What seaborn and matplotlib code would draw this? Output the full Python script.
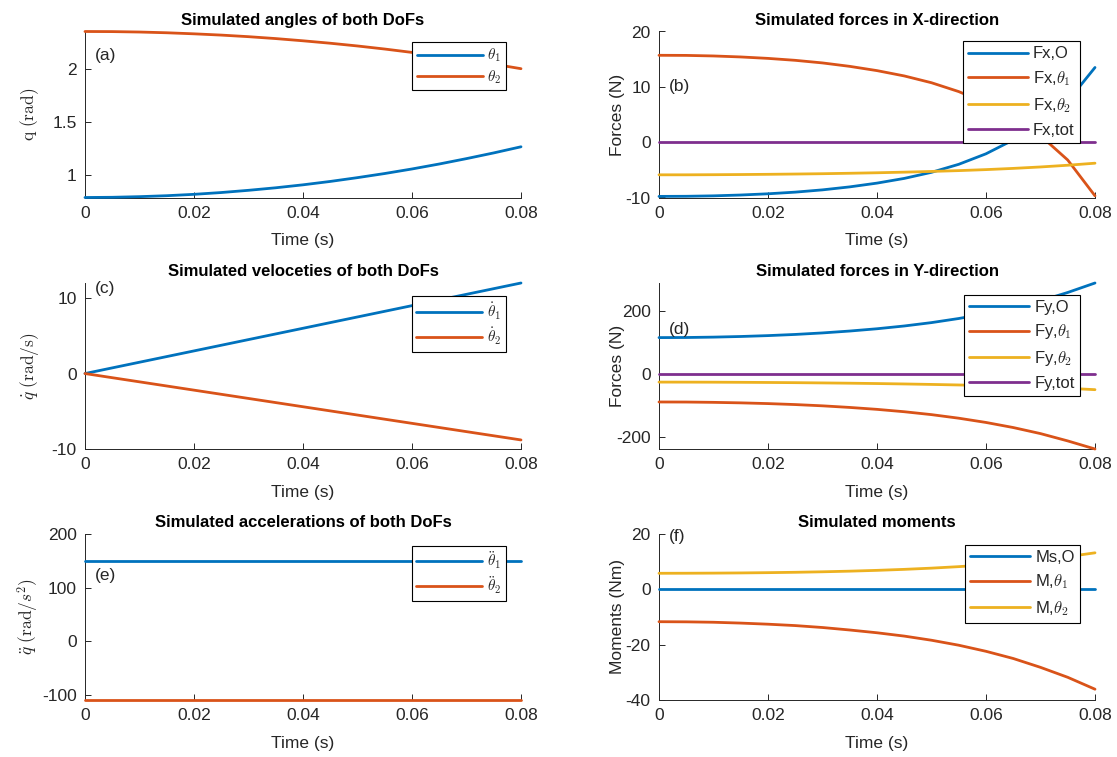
import numpy as np
import pandas as pd
import matplotlib
matplotlib.use("Agg")
import matplotlib.pyplot as plt
import seaborn as sns
from matplotlib.ticker import FuncFormatter

# ---------------- data ----------------
time = [0.0, 0.005, 0.01, 0.015, 0.02, 0.025, 0.03, 0.035, 0.04,
        0.045, 0.05, 0.055, 0.06, 0.065, 0.07, 0.075, 0.08]

theta1 = [0.785, 0.787, 0.793, 0.802, 0.815, 0.832, 0.853, 0.877, 0.905,
          0.937, 0.973, 1.012, 1.055, 1.102, 1.153, 1.207, 1.265]
theta2 = [2.356, 2.355, 2.351, 2.344, 2.334, 2.322, 2.307, 2.289, 2.268,
          2.245, 2.219, 2.190, 2.158, 2.124, 2.087, 2.047, 2.004]

dtheta1 = [0, 0.75, 1.5, 2.25, 3.0, 3.75, 4.5, 5.25, 6.0,
           6.75, 7.5, 8.25, 9.0, 9.75, 10.5, 11.25, 12.0]
dtheta2 = [0, -0.55, -1.1, -1.65, -2.2, -2.75, -3.3, -3.85, -4.4,
           -4.95, -5.5, -6.05, -6.6, -7.15, -7.7, -8.25, -8.8]

ddtheta1 = [150] * 17
ddtheta2 = [-110] * 17

fx_O = [-9.80, -9.78, -9.70, -9.55, -9.33, -9.03, -8.62, -8.08, -7.40,
        -6.55, -5.45, -4.00, -2.10, 0.40, 3.30, 7.40, 13.50]
fx_t1 = [15.70, 15.68, 15.58, 15.40, 15.14, 14.79, 14.32, 13.70, 12.93,
         11.97, 10.74, 9.14, 7.06, 4.34, 1.18, -3.23, -9.70]
fx_t2 = [-5.90, -5.90, -5.88, -5.85, -5.81, -5.76, -5.70, -5.62, -5.53,
         -5.42, -5.29, -5.14, -4.96, -4.74, -4.48, -4.17, -3.80]
fx_tot = [0.0] * 17

fy_O = [115, 115.3, 116.5, 118.5, 121.3, 125, 129.8, 135.8, 143,
        151.8, 162.5, 175.5, 191, 209.5, 231.5, 258, 288]
fy_t1 = [-89, -89.2, -90.2, -91.8, -94.1, -97.2, -101.2, -106.3, -112.4,
         -119.9, -129.1, -140.4, -153.9, -170, -189.2, -212.4, -238]
fy_t2 = [-26, -26.1, -26.3, -26.7, -27.2, -27.8, -28.6, -29.5, -30.6,
         -31.9, -33.4, -35.1, -37.1, -39.5, -42.3, -45.6, -50]
fy_tot = [0.0] * 17

m_O = [0.0] * 17
m_t1 = [-11.7, -11.75, -11.9, -12.2, -12.6, -13.1, -13.8, -14.7, -15.7,
        -16.9, -18.4, -20.2, -22.4, -25.0, -28.2, -31.8, -36.1]
m_t2 = [5.8, 5.82, 5.86, 5.93, 6.03, 6.16, 6.34, 6.57, 6.86,
        7.22, 7.66, 8.2, 8.86, 9.66, 10.6, 11.8, 13.2]

x_ticks = [0, 0.02, 0.04, 0.06, 0.08]

# ---------------- style ----------------
sns.set_style("ticks")
plt.rcParams["font.family"] = ["Liberation Sans", "DejaVu Sans"]
plt.rcParams["axes.unicode_minus"] = False
plt.rcParams["mathtext.fontset"] = "cm"

C_BLUE, C_RED, C_YEL, C_PUR = "#0072BD", "#D95319", "#EDB120", "#7E2F8E"
GRAY = "#262626"

fig = plt.figure(figsize=(11.17, 7.57), dpi=100)

W = 436 / 1117
H = 166 / 757
cols = [85 / 1117, 659 / 1117]
rows = [1 - 197.5 / 757, 1 - 449 / 757, 1 - 700 / 757]
ylab_x = [-0.102, -0.078]


def fmt(v, pos):
    return "%g" % round(v, 6)


def panel(r, c, series, labels, colors, title, ylabel, ylim, yticks,
          tag, tag_y, leg_math=True, leg_y=0.935, ylab_math=True):
    ax = fig.add_axes([cols[c], rows[r], W, H])
    recs = []
    for vals, lab in zip(series, labels):
        for t, v in zip(time, vals):
            recs.append({"t": t, "v": v, "s": lab})
    df = pd.DataFrame(recs)
    sns.lineplot(data=df, x="t", y="v", hue="s", hue_order=labels,
                 palette=colors, linewidth=2.0, estimator=None, ax=ax)
    for ln in ax.get_lines():
        ln.set_clip_on(False)
        ln.set_zorder(3)
    ax.set_xlim(0, 0.08)
    ax.set_ylim(*ylim)
    ax.set_xticks(x_ticks)
    ax.set_yticks(yticks)
    ax.xaxis.set_major_formatter(FuncFormatter(fmt))
    ax.yaxis.set_major_formatter(FuncFormatter(fmt))
    for sp in ["top", "right"]:
        ax.spines[sp].set_visible(False)
    for sp in ["left", "bottom"]:
        ax.spines[sp].set_color(GRAY)
        ax.spines[sp].set_linewidth(0.7)
    ax.tick_params(direction="in", length=4, width=0.7, colors=GRAY,
                   labelsize=12.5, pad=6)
    ax.set_title(title, fontsize=12, fontweight="bold", pad=5, color="black")
    ax.set_xlabel("Time (s)", fontsize=12.5, color=GRAY, labelpad=9)
    ax.set_ylabel(ylabel, fontsize=12.5, color=GRAY)
    ax.yaxis.set_label_coords(ylab_x[c], 0.5)
    if ylab_math:
        ax.yaxis.label.set_math_fontfamily("cm")
    ax.text(0.023, tag_y, tag, transform=ax.transAxes, fontsize=12.5,
            va="center", ha="left", color=GRAY, zorder=5)
    handles, labs = ax.get_legend_handles_labels()
    leg = ax.legend(handles, labs, loc="upper right",
                    bbox_to_anchor=(0.965, leg_y), borderaxespad=0,
                    fancybox=False, framealpha=1, edgecolor="black",
                    fontsize=11 if leg_math else 12,
                    handlelength=4.3 if leg_math else 3.6, handletextpad=0.3,
                    labelspacing=0.25 if leg_math else 0.47, borderpad=0.3)
    leg.set_zorder(6)
    leg.get_frame().set_linewidth(0.8)
    for txt in leg.get_texts():
        txt.set_math_fontfamily("cm")
    for ln in leg.get_lines():
        ln.set_linewidth(2.0)
    return ax


panel(0, 0, [theta1, theta2], [r"$\theta_1$", r"$\theta_2$"], [C_BLUE, C_RED],
      "Simulated angles of both DoFs", r"$\mathrm{q}\ (\mathrm{rad})$",
      (min(theta1), max(theta2)), [1, 1.5, 2], "(a)", 0.855)

panel(0, 1, [fx_O, fx_t1, fx_t2, fx_tot],
      ["Fx,O", r"Fx,$\theta_1$", r"Fx,$\theta_2$", "Fx,tot"],
      [C_BLUE, C_RED, C_YEL, C_PUR],
      "Simulated forces in X-direction", "Forces (N)", (-10, 20),
      [-10, 0, 10, 20], "(b)", 0.667, leg_math=False, leg_y=0.94,
      ylab_math=False)

panel(1, 0, [dtheta1, dtheta2], [r"$\dot{\theta}_1$", r"$\dot{\theta}_2$"],
      [C_BLUE, C_RED], "Simulated veloceties of both DoFs",
      r"$\dot{q}\ (\mathrm{rad/s})$", (-10, max(dtheta1)), [-10, 0, 10],
      "(c)", 0.965, leg_y=0.92)

panel(1, 1, [fy_O, fy_t1, fy_t2, fy_tot],
      ["Fy,O", r"Fy,$\theta_1$", r"Fy,$\theta_2$", "Fy,tot"],
      [C_BLUE, C_RED, C_YEL, C_PUR],
      "Simulated forces in Y-direction", "Forces (N)",
      (min(fy_t1), max(fy_O)), [-200, 0, 200], "(d)", 0.72,
      leg_math=False, leg_y=0.93, ylab_math=False)

panel(2, 0, [ddtheta1, ddtheta2], [r"$\ddot{\theta}_1$", r"$\ddot{\theta}_2$"],
      [C_BLUE, C_RED], "Simulated accelerations of both DoFs",
      r"$\ddot{q}\ (\mathrm{rad}/s^2)$", (-110, 200), [-100, 0, 100, 200],
      "(e)", 0.75, leg_y=0.93)

panel(2, 1, [m_O, m_t1, m_t2], ["Ms,O", r"M,$\theta_1$", r"M,$\theta_2$"],
      [C_BLUE, C_RED, C_YEL], "Simulated moments", "Moments (Nm)",
      (-40, 20), [-40, -20, 0, 20], "(f)", 0.985, leg_math=False,
      leg_y=0.935, ylab_math=False)

fig.savefig("out.png", dpi=100)
